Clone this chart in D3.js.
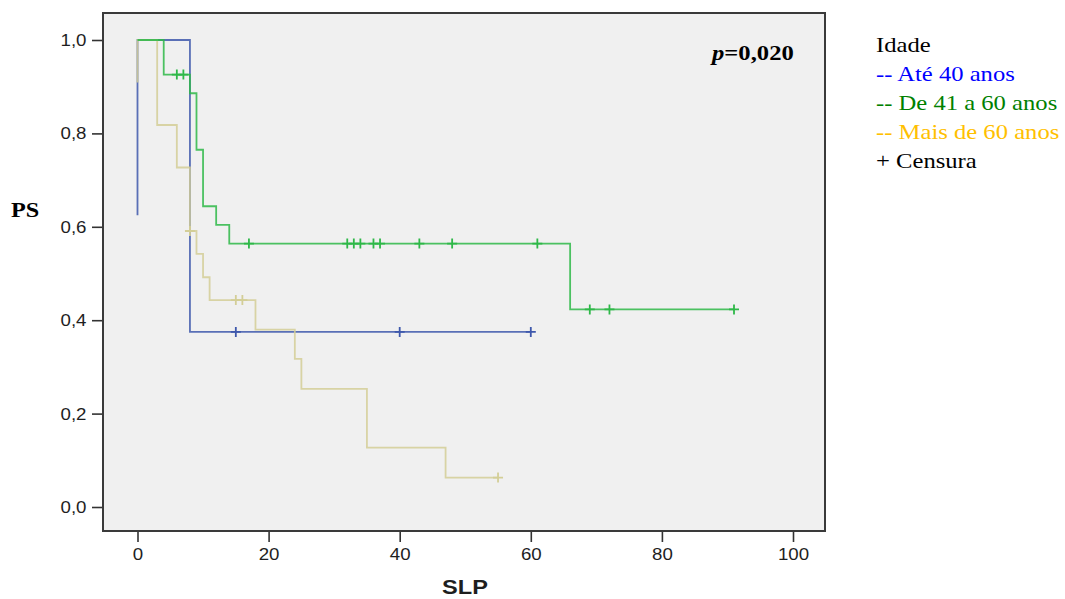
<!DOCTYPE html>
<html>
<head>
<meta charset="utf-8">
<script src="https://cdn.jsdelivr.net/npm/d3@7"></script>
<style>
  html, body { margin: 0; padding: 0; background: #ffffff; }
  svg { display: block; }
  .serif { font-family: "Liberation Serif", "Times New Roman", serif; }
  .sans { font-family: "Liberation Sans", Arial, sans-serif; }
</style>
</head>
<body>
<svg id="chart" width="1065" height="599"></svg>
<script>
// Kaplan–Meier steps per age group: time (months) and survival after that time
const ate40Time = [0, 0, 8, 60];
const ate40Surv = [0.625, 1, 0.375, 0.375];
const ate40Cens = [15, 40, 60];

const de41Time = [0, 4, 8, 9, 10, 12, 14, 66, 91];
const de41Surv = [1, 0.926, 0.886, 0.765, 0.644, 0.604, 0.564, 0.423, 0.423];
const de41Cens = [6, 7, 17, 32, 33, 34, 36, 37, 43, 48, 61, 69, 72, 91];

const mais60Time = [0, 0, 3, 6, 8, 9, 10, 11, 18, 24, 25, 35, 47, 55];
const mais60Surv = [0.909, 1, 0.818, 0.727, 0.591, 0.542, 0.492, 0.443, 0.380, 0.317, 0.253, 0.127, 0.063, 0.063];
const mais60Cens = [8, 15, 16, 55];

const xTicks = [0, 20, 40, 60, 80, 100];
const yTicks = [0, 0.2, 0.4, 0.6, 0.8, 1.0];

const legendTitle = "Idade";
const legendLabels = ["-- Até 40 anos", "-- De 41 a 60 anos", "-- Mais de 60 anos"];
const legendCensor = "+ Censura";
const pValueText = "0,020";

const svg = d3.select("#chart");

// plot frame
const frame = { left: 103, right: 825, top: 13, bottom: 531 };
const x = d3.scaleLinear().domain([0, 100]).range([137.5, 793]);
const y = d3.scaleLinear().domain([0, 1]).range([507, 40]);

svg.append("rect")
  .attr("x", frame.left).attr("y", frame.top)
  .attr("width", frame.right - frame.left)
  .attr("height", frame.bottom - frame.top)
  .attr("fill", "#f0f0f0");

const comma = d => d3.format(".1f")(d).replace(".", ",");

// y axis
const gy = svg.append("g")
  .attr("transform", `translate(${frame.left},0)`)
  .call(d3.axisLeft(y).tickValues(yTicks).tickSize(11).tickPadding(4).tickFormat(comma));
gy.select(".domain").remove();
gy.selectAll(".tick line").attr("stroke", "#333").attr("stroke-width", 1.6);
gy.selectAll(".tick text")
  .attr("class", "sans")
  .attr("font-family", null)
  .attr("font-size", 17).attr("fill", "#1e1e1e")
  .attr("dy", "0.32em")
  .attr("transform", "scale(1.1,1)");

// x axis
const gx = svg.append("g")
  .attr("transform", `translate(0,${frame.bottom})`)
  .call(d3.axisBottom(x).tickValues(xTicks).tickSize(11).tickPadding(6).tickFormat(d3.format("d")));
gx.select(".domain").remove();
gx.selectAll(".tick line").attr("stroke", "#333").attr("stroke-width", 1.6);
gx.selectAll(".tick text")
  .attr("class", "sans")
  .attr("font-size", 17).attr("fill", "#1e1e1e")
  .attr("transform", "scale(1.1,1)");
gx.attr("font-family", null);
gy.attr("font-family", null);

// survival curves
const line = d3.line().x(d => x(d[0])).y(d => y(d[1])).curve(d3.curveStepAfter);
const groups = [
  { times: ate40Time, surv: ate40Surv, cens: ate40Cens, color: "#3e58ac" },
  { times: mais60Time, surv: mais60Surv, cens: mais60Cens, color: "#d3ce97" },
  { times: de41Time, surv: de41Surv, cens: de41Cens, color: "#2eb848" }
];

const plot = svg.append("g");
groups.forEach(g => {
  const pts = g.times.map((t, i) => [t, g.surv[i]]);
  plot.append("path")
    .attr("d", line(pts))
    .attr("fill", "none")
    .attr("stroke", g.color)
    .attr("stroke-width", 1.8)
    .attr("stroke-opacity", 0.85);

  // censor marks at the survival level in force at that time
  g.cens.forEach(t => {
    const s = g.surv[d3.bisectRight(g.times, t) - 1];
    const cx = x(t), cy = y(s);
    plot.append("path")
      .attr("d", `M${cx - 5},${cy}H${cx + 5}M${cx},${cy - 5}V${cy + 5}`)
      .attr("stroke", g.color)
      .attr("stroke-width", 1.8)
      .attr("fill", "none");
  });
});

// frame border
svg.append("rect")
  .attr("x", frame.left).attr("y", frame.top)
  .attr("width", frame.right - frame.left)
  .attr("height", frame.bottom - frame.top)
  .attr("fill", "none")
  .attr("stroke", "#3a3a3a")
  .attr("stroke-width", 2);

// p value
const pText = svg.append("text")
  .attr("class", "serif")
  .attr("transform", "translate(712,60) scale(1.12,1)")
  .attr("font-size", 22).attr("font-weight", "bold").attr("fill", "#000");
pText.append("tspan").attr("font-style", "italic").text("p");
pText.append("tspan").text("=" + pValueText);

// axis titles
svg.append("text")
  .attr("class", "serif")
  .attr("transform", "translate(11,217) scale(1.1,1)")
  .attr("font-size", 22).attr("font-weight", "bold").attr("fill", "#000")
  .text("PS");

svg.append("text")
  .attr("class", "sans")
  .attr("transform", "translate(465,594) scale(1.18,1)")
  .attr("text-anchor", "middle")
  .attr("font-size", 20).attr("font-weight", "bold").attr("fill", "#1e1e1e")
  .text("SLP");

// legend
const legendColors = ["#0000ff", "#008000", "#ffc000"];
const legendRows = [{ text: legendTitle, color: "#000" }]
  .concat(legendLabels.map((t, i) => ({ text: t, color: legendColors[i] })))
  .concat([{ text: legendCensor, color: "#000" }]);
svg.append("g").selectAll("text")
  .data(legendRows)
  .join("text")
  .attr("class", "serif")
  .attr("transform", (d, i) => `translate(876,${52.3 + i * 29}) scale(1.12,1)`)
  .attr("font-size", 22)
  .attr("fill", d => d.color)
  .text(d => d.text);
</script>
</body>
</html>
